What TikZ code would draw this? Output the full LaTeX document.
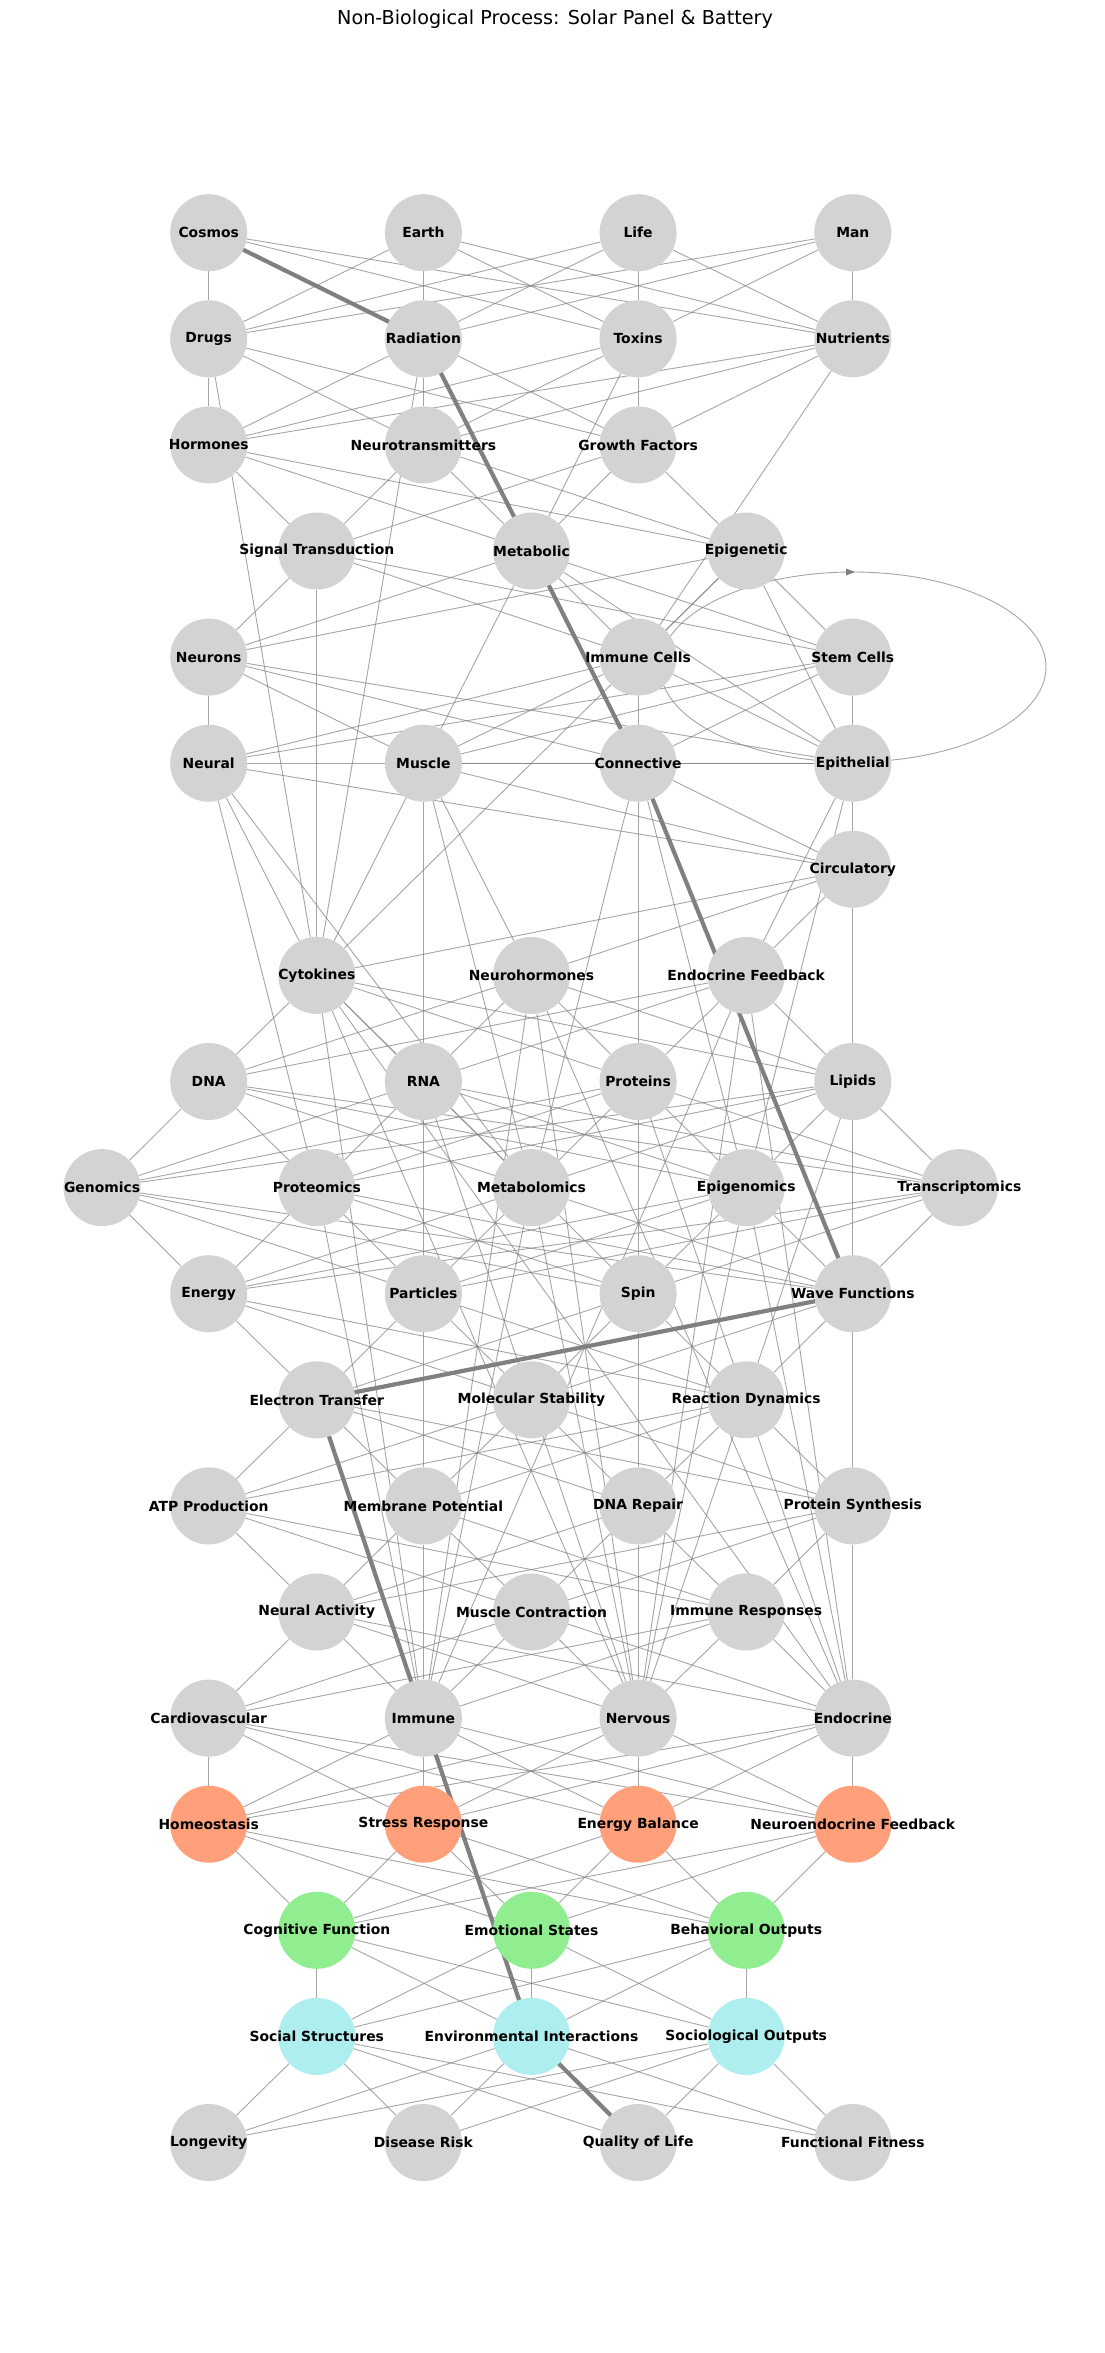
\documentclass[tikz,border=0pt]{standalone}
\usepackage{fontspec}
\newfontfamily\dejavu{DejaVu Sans}
\usetikzlibrary{arrows.meta}
\pgfdeclarelayer{edgelayer}
\pgfsetlayers{edgelayer,main}
\definecolor{ngray}{HTML}{D3D3D3}
\definecolor{nsalmon}{HTML}{FFA07A}
\definecolor{ngreen}{HTML}{90EE90}
\definecolor{nturq}{HTML}{AFEEEE}
\tikzset{
  gnode/.style={circle,minimum size=77pt,inner sep=0pt,draw=none,text=black,
    font={\dejavu\bfseries\fontsize{13.9}{16}\selectfont}},
  lnk/.style={draw=gray,draw opacity=0.7,line width=0.9pt},
  hotlnk/.style={draw=gray,line width=4.2pt},
  ttl/.style={font={\dejavu\fontsize{19.2}{23}\selectfont},inner sep=0pt}
}
\newcommand{\mknode}[5]{\node[gnode,fill=#5] (#1) at (#2,#3) {\makebox[0pt]{#4}};}
\newcommand{\connect}[2]{\foreach \a in {#1}{\foreach \b in {#2}{\draw[lnk] (\a) -- (\b);}}}
\begin{document}
\begin{tikzpicture}[x=1pt,y=-1pt]
\useasboundingbox (0,0) rectangle (1105,2353);
\node[ttl] (title) at (555,19) {Non-Biological Process: Solar Panel \& Battery};
\mknode{cosmos}{208.7}{232.7}{Cosmos}{ngray}
\mknode{earth}{423.4}{232.7}{Earth}{ngray}
\mknode{life}{638.1}{232.7}{Life}{ngray}
\mknode{man}{852.8}{232.7}{Man}{ngray}
\mknode{drugs}{208.7}{338.8}{Drugs}{ngray}
\mknode{radiation}{423.4}{338.8}{Radiation}{ngray}
\mknode{toxins}{638.1}{338.8}{Toxins}{ngray}
\mknode{nutrients}{852.8}{338.8}{Nutrients}{ngray}
\mknode{hormones}{208.7}{444.9}{Hormones}{ngray}
\mknode{neurotrans}{423.4}{444.9}{Neurotransmitters}{ngray}
\mknode{growth}{638.1}{444.9}{Growth Factors}{ngray}
\mknode{signal}{316.8}{551}{Signal Transduction}{ngray}
\mknode{metabolic}{531.5}{551}{Metabolic}{ngray}
\mknode{epigenetic}{746.2}{551}{Epigenetic}{ngray}
\mknode{neurons}{208.7}{657.1}{Neurons}{ngray}
\mknode{immunecells}{638.1}{657.1}{Immune Cells}{ngray}
\mknode{stemcells}{852.8}{657.1}{Stem Cells}{ngray}
\mknode{neural}{208.7}{763.2}{Neural}{ngray}
\mknode{muscle}{423.4}{763.2}{Muscle}{ngray}
\mknode{connective}{638.1}{763.2}{Connective}{ngray}
\mknode{epithelial}{852.8}{763.2}{Epithelial}{ngray}
\mknode{circulatory}{852.8}{869.3}{Circulatory}{ngray}
\mknode{cytokines}{316.8}{975.4}{Cytokines}{ngray}
\mknode{neurohorm}{531.5}{975.4}{Neurohormones}{ngray}
\mknode{endofb}{746.2}{975.4}{Endocrine Feedback}{ngray}
\mknode{dna}{208.7}{1081.5}{DNA}{ngray}
\mknode{rna}{423.4}{1081.5}{RNA}{ngray}
\mknode{proteins}{638.1}{1081.5}{Proteins}{ngray}
\mknode{lipids}{852.8}{1081.5}{Lipids}{ngray}
\mknode{genomics}{102.1}{1187.6}{Genomics}{ngray}
\mknode{proteomics}{316.8}{1187.6}{Proteomics}{ngray}
\mknode{metabolomics}{531.5}{1187.6}{Metabolomics}{ngray}
\mknode{epigenomics}{746.2}{1187.6}{Epigenomics}{ngray}
\mknode{transcriptomics}{959.4}{1187.6}{Transcriptomics}{ngray}
\mknode{energy}{208.7}{1293.7}{Energy}{ngray}
\mknode{particles}{423.4}{1293.7}{Particles}{ngray}
\mknode{spin}{638.1}{1293.7}{Spin}{ngray}
\mknode{wavef}{852.8}{1293.7}{Wave Functions}{ngray}
\mknode{electron}{316.8}{1399.8}{Electron Transfer}{ngray}
\mknode{molstab}{531.5}{1399.8}{Molecular Stability}{ngray}
\mknode{reaction}{746.2}{1399.8}{Reaction Dynamics}{ngray}
\mknode{atp}{208.7}{1505.9}{ATP Production}{ngray}
\mknode{membrane}{423.4}{1505.9}{Membrane Potential}{ngray}
\mknode{dnarepair}{638.1}{1505.9}{DNA Repair}{ngray}
\mknode{protsynth}{852.8}{1505.9}{Protein Synthesis}{ngray}
\mknode{neuralact}{316.8}{1612}{Neural Activity}{ngray}
\mknode{musclecon}{531.5}{1612}{Muscle Contraction}{ngray}
\mknode{immuneresp}{746.2}{1612}{Immune Responses}{ngray}
\mknode{cardio}{208.7}{1718.1}{Cardiovascular}{ngray}
\mknode{immune}{423.4}{1718.1}{Immune}{ngray}
\mknode{nervous}{638.1}{1718.1}{Nervous}{ngray}
\mknode{endocrine}{852.8}{1718.1}{Endocrine}{ngray}
\mknode{homeo}{208.7}{1824.2}{Homeostasis}{nsalmon}
\mknode{stress}{423.4}{1824.2}{Stress Response}{nsalmon}
\mknode{energybal}{638.1}{1824.2}{Energy Balance}{nsalmon}
\mknode{neuroendo}{852.8}{1824.2}{Neuroendocrine Feedback}{nsalmon}
\mknode{cognitive}{316.8}{1930.3}{Cognitive Function}{ngreen}
\mknode{emotional}{531.5}{1930.3}{Emotional States}{ngreen}
\mknode{behavioral}{746.2}{1930.3}{Behavioral Outputs}{ngreen}
\mknode{social}{316.8}{2036.4}{Social Structures}{nturq}
\mknode{environ}{531.5}{2036.4}{Environmental Interactions}{nturq}
\mknode{sociological}{746.2}{2036.4}{Sociological Outputs}{nturq}
\mknode{longevity}{208.7}{2142.5}{Longevity}{ngray}
\mknode{disease}{423.4}{2142.5}{Disease Risk}{ngray}
\mknode{quality}{638.1}{2142.5}{Quality of Life}{ngray}
\mknode{fitness}{852.8}{2142.5}{Functional Fitness}{ngray}
\coordinate (loopc) at (853,667);
\begin{pgfonlayer}{edgelayer}
\fill[white] (0,0) rectangle (1105,2353);
\connect{cosmos,earth,life,man}{drugs,radiation,toxins,nutrients}
\connect{drugs,radiation,toxins,nutrients}{hormones,neurotrans,growth}
\connect{hormones,neurotrans,growth}{signal,metabolic,epigenetic}
\connect{signal,metabolic,epigenetic}{neurons,immunecells,stemcells}
\connect{neurons,immunecells,stemcells}{neural,muscle,connective,epithelial}
\connect{neural,muscle,connective,epithelial}{circulatory}
\connect{circulatory}{cytokines,neurohorm,endofb}
\connect{cytokines,neurohorm,endofb}{dna,rna,proteins,lipids}
\connect{dna,rna,proteins,lipids}{genomics,proteomics,metabolomics,epigenomics,transcriptomics}
\connect{genomics,proteomics,metabolomics,epigenomics,transcriptomics}{energy,particles,spin,wavef}
\connect{energy,particles,spin,wavef}{electron,molstab,reaction}
\connect{electron,molstab,reaction}{atp,membrane,dnarepair,protsynth}
\connect{atp,membrane,dnarepair,protsynth}{neuralact,musclecon,immuneresp}
\connect{neuralact,musclecon,immuneresp}{cardio,immune,nervous,endocrine}
\connect{cardio,immune,nervous,endocrine}{homeo,stress,energybal,neuroendo}
\connect{homeo,stress,energybal,neuroendo}{cognitive,emotional,behavioral}
\connect{cognitive,emotional,behavioral}{social,environ,sociological}
\connect{social,environ,sociological}{longevity,disease,quality,fitness}
\foreach \a/\b in {drugs/cytokines, radiation/cytokines, toxins/metabolic, nutrients/immunecells,
  signal/cytokines, metabolic/muscle, muscle/cytokines, epigenetic/cytokines, epigenetic/epithelial,
  metabolic/epithelial, neural/cytokines, neural/proteomics, neural/metabolomics, muscle/rna,
  muscle/neurohorm, muscle/metabolomics, connective/proteins, connective/metabolomics,
  connective/epigenomics, epithelial/endofb, epithelial/epigenomics, circulatory/lipids,
  neural/epithelial, muscle/epithelial, rna/particles, proteins/spin, lipids/wavef,
  particles/membrane, spin/dnarepair, wavef/protsynth, membrane/immune, dnarepair/nervous,
  protsynth/endocrine, cytokines/immune, cytokines/nervous, cytokines/endocrine,
  cytokines/metabolomics, neurohorm/immune, neurohorm/nervous, neurohorm/endocrine,
  endofb/immune, endofb/nervous, endofb/endocrine, proteomics/immune, metabolomics/immune,
  metabolomics/nervous, rna/nervous, proteins/endocrine, lipids/nervous, epigenomics/nervous,
  epigenomics/endocrine}
  {\draw[lnk] (\a) -- (\b);}
\draw[lnk] (loopc) ellipse [x radius=193pt, y radius=95pt];
\fill[gray] (855,572) -- (846,568.5) -- (846,575.5) -- cycle;
\foreach \a/\b in {cosmos/radiation, radiation/metabolic, metabolic/connective, connective/wavef,
  wavef/electron, electron/immune, immune/environ, environ/quality}
  {\draw[hotlnk] (\a.center) -- (\b.center);}
\end{pgfonlayer}
\end{tikzpicture}
\end{document}
